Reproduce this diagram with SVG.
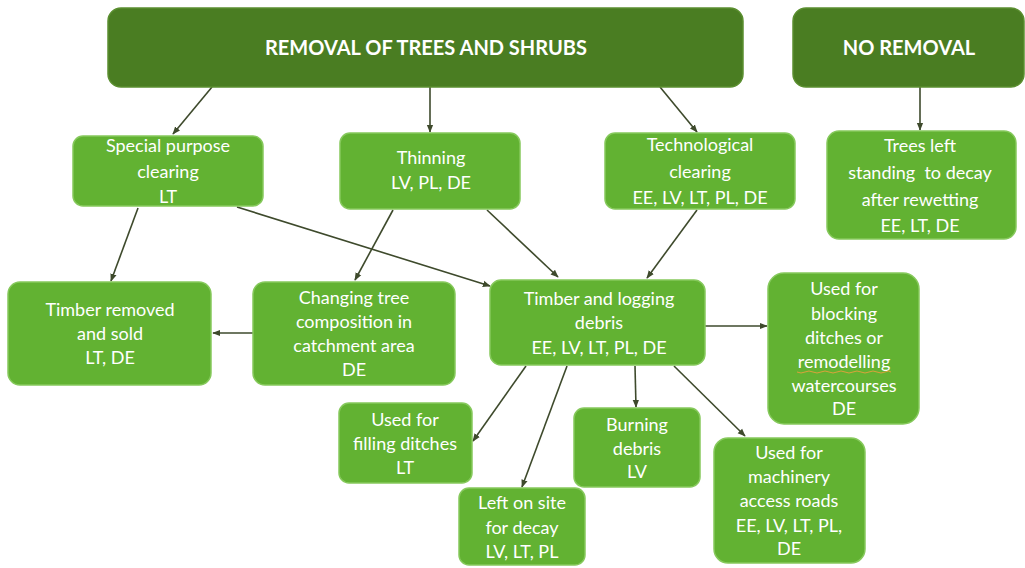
<svg xmlns="http://www.w3.org/2000/svg" width="1025" height="568" viewBox="0 0 1025 568">
<style>
.dark{fill:#4a7d22;stroke:#5b8f30;stroke-width:1.5}
.box{fill:#62b232;stroke:#86c95c;stroke-width:1.5}
.t{font-family:Lato,"Liberation Sans",sans-serif;font-size:18px;fill:#ffffff;text-anchor:middle;white-space:pre}
.h{font-family:Lato,"Liberation Sans",sans-serif;font-size:20px;font-weight:bold;fill:#ffffff;text-anchor:middle}
.c line{stroke:#3e4a2c;stroke-width:1.6;marker-end:url(#ah)}
</style>
<defs>
<marker id="ah" viewBox="0 0 10 10" refX="9" refY="5" markerWidth="5" markerHeight="5" orient="auto" markerUnits="strokeWidth">
<path d="M0,1 L10,5 L0,9 z" fill="#3e4a2c"/>
</marker>
</defs>
<rect width="1025" height="568" fill="#ffffff"/>
<g class="c" id="connectors">
<line x1="212" y1="87" x2="173" y2="134"/>
<line x1="430" y1="87" x2="430" y2="132"/>
<line x1="660" y1="87" x2="697" y2="132"/>
<line x1="920" y1="87" x2="920" y2="130"/>
<line x1="138" y1="208" x2="111" y2="281"/>
<line x1="237" y1="207" x2="490" y2="286"/>
<line x1="393" y1="210" x2="355" y2="280"/>
<line x1="487" y1="210" x2="558" y2="277"/>
<line x1="697" y1="210" x2="647" y2="278"/>
<line x1="253" y1="333" x2="213" y2="333"/>
<line x1="705" y1="326" x2="767" y2="326"/>
<line x1="526" y1="366" x2="473" y2="441"/>
<line x1="567" y1="366" x2="522" y2="487"/>
<line x1="635" y1="366" x2="636" y2="407"/>
<line x1="674" y1="366" x2="745" y2="436"/>
</g>
<g id="n-removal"><rect class="dark" x="108" y="8" width="635" height="79" rx="13"/><text class="h" x="426" y="55">REMOVAL OF TREES AND SHRUBS</text></g>
<g id="n-noremoval"><rect class="dark" x="793" y="8" width="231" height="79" rx="13"/><text class="h" x="909" y="55">NO REMOVAL</text></g>
<g id="n-special"><rect class="box" x="73" y="136" width="190" height="70" rx="10"/><text class="t" x="168" y="152">Special purpose</text><text class="t" x="168" y="178">clearing</text><text class="t" x="168" y="203">LT</text></g>
<g id="n-thinning"><rect class="box" x="340" y="133" width="180" height="76" rx="10"/><text class="t" x="431" y="164">Thinning</text><text class="t" x="431" y="189">LV, PL, DE</text></g>
<g id="n-tech"><rect class="box" x="605" y="133" width="190" height="76" rx="10"/><text class="t" x="700" y="151">Technological</text><text class="t" x="700" y="178">clearing</text><text class="t" x="700" y="204">EE, LV, LT, PL, DE</text></g>
<g id="n-trees"><rect class="box" x="827" y="131" width="189" height="108" rx="12"/><text class="t" x="920" y="152">Trees left</text><text class="t" x="920" y="179">standing&#160; to decay</text><text class="t" x="920" y="206">after rewetting</text><text class="t" x="920" y="232">EE, LT, DE</text></g>
<g id="n-timber-sold"><rect class="box" x="8" y="282" width="203" height="103" rx="12"/><text class="t" x="110" y="316">Timber removed</text><text class="t" x="110" y="340">and sold</text><text class="t" x="110" y="364">LT, DE</text></g>
<g id="n-changing"><rect class="box" x="253" y="282" width="202" height="103" rx="12"/><text class="t" x="354" y="304">Changing tree</text><text class="t" x="354" y="328">composition in</text><text class="t" x="354" y="352">catchment area</text><text class="t" x="354" y="376">DE</text></g>
<g id="n-logging"><rect class="box" x="490" y="280" width="215" height="85" rx="11"/><text class="t" x="599" y="305">Timber and logging</text><text class="t" x="599" y="329">debris</text><text class="t" x="599" y="354">EE, LV, LT, PL, DE</text></g>
<g id="n-blocking"><rect class="box" x="768" y="273" width="151" height="151" rx="16"/><text class="t" x="844" y="295">Used for</text><text class="t" x="844" y="320">blocking</text><text class="t" x="844" y="344">ditches or</text><text class="t" x="844" y="368">remodelling</text><path d="M797,372 Q801,374 805,372 T813,372 T821,372 T829,372 T837,372 T845,372 T853,372 T861,372 T869,372 T877,372 T885,372 T891,372" fill="none" stroke="#d9a23a" stroke-width="1"/><text class="t" x="844" y="392">watercourses</text><text class="t" x="844" y="415">DE</text></g>
<g id="n-filling"><rect class="box" x="339" y="403" width="133" height="80" rx="10"/><text class="t" x="405" y="426">Used for</text><text class="t" x="405" y="450">filling ditches</text><text class="t" x="405" y="474">LT</text></g>
<g id="n-leftonsite"><rect class="box" x="459" y="488" width="126" height="77" rx="10"/><text class="t" x="522" y="509">Left on site</text><text class="t" x="522" y="534">for decay</text><text class="t" x="522" y="558">LV, LT, PL</text></g>
<g id="n-burning"><rect class="box" x="574" y="408" width="126" height="79" rx="10"/><text class="t" x="637" y="431">Burning</text><text class="t" x="637" y="455">debris</text><text class="t" x="637" y="478">LV</text></g>
<g id="n-machinery"><rect class="box" x="714" y="438" width="151" height="125" rx="14"/><text class="t" x="789" y="459">Used for</text><text class="t" x="789" y="483">machinery</text><text class="t" x="789" y="507">access roads</text><text class="t" x="789" y="532">EE, LV, LT, PL,</text><text class="t" x="789" y="555">DE</text></g>
</svg>
